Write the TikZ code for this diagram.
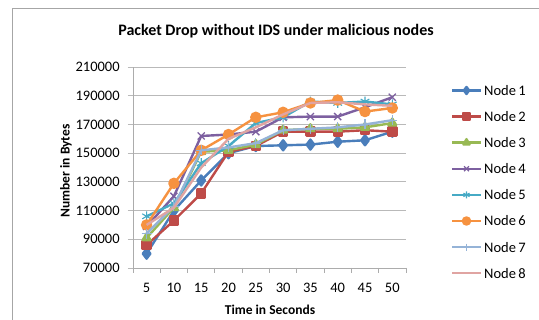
\documentclass[tikz,border=0pt]{standalone}
\usepackage{fontspec}
\setmainfont{Carlito}
\usetikzlibrary{plotmarks}
\definecolor{colA}{HTML}{4A7EBB}
\definecolor{colB}{HTML}{BE4B48}
\definecolor{colC}{HTML}{98B954}
\definecolor{colD}{HTML}{7D60A0}
\definecolor{colE}{HTML}{46AAC5}
\definecolor{colF}{HTML}{F69240}
\definecolor{colG}{HTML}{95B3D7}
\definecolor{colH}{HTML}{E0A4A2}
\begin{document}
\begin{tikzpicture}[x=1pt,y=1pt,line join=round,font=\fontsize{14.5}{16}\selectfont,
	gridline/.style={draw=gray!55,line width=0.8pt},
	axisline/.style={draw=gray!65,line width=0.8pt},
	ser/.style={line width=2.4pt,mark options={solid}},
	s1/.style={ser,colA,mark=diamond*,mark size=5pt},
	s2/.style={ser,colB,mark=square*,mark size=4pt},
	s3/.style={ser,colC,mark=triangle*,mark size=4.5pt},
	s4/.style={ser,colD,mark=x,mark size=5pt,mark options={line width=1.3pt}},
	s5/.style={ser,colE,mark=asterisk,mark size=5pt,mark options={line width=1.1pt}},
	s6/.style={ser,colF,mark=*,mark size=4.5pt},
	s7/.style={ser,colG,mark=+,mark size=5pt,mark options={line width=1.1pt}},
	s8/.style={ser,colH,mark=none}]
		\useasboundingbox (0,0) rectangle (539,320);
		\fill[white] (0,0) rectangle (539,320);
		% chart frame
		\draw[gray!70,line width=0.8pt] (12,0)--(12,312)--(539,312);
		\node[font=\fontsize{16}{18}\selectfont\bfseries] (title) at (276,289) {Packet Drop without IDS under malicious nodes};
		\node[font=\fontsize{13.5}{15}\selectfont\bfseries,rotate=90] (ylab) at (66,149) {Number in Bytes};
		\node[font=\fontsize{13.5}{15}\selectfont\bfseries] (xlab) at (270,10) {Time in Seconds};
		\begin{scope}[x=5.46pt,y=1.435pt,shift={(119.3pt,-48.45pt)}]
			\foreach \v in {70,90,...,210}{
				\draw[gridline] (1.58,\v)--(52.5,\v);
				\node[anchor=east,inner sep=0pt] (ytick\v) at (0.1,\v) {\v000};
			}
			\draw[axisline] (2.5,70)--(2.5,210);
			\draw[axisline] (2.5,70)--(52.5,70);
			\foreach \t in {2.5,7.5,...,52.5}
				\draw[axisline] (\t,70)--(\t,66.5);
			\foreach \t in {5,10,...,50}
				\node (xtick\t) at (\t,56) {\t};
			% data
			\draw[s1] plot coordinates {(5,80) (10,110) (15,131) (20,150) (25,155) (30,155.5) (35,156) (40,158) (45,159) (50,165)};
			\draw[s2] plot coordinates {(5,86) (10,103) (15,122) (20,151) (25,155) (30,165) (35,165) (40,165) (45,166) (50,165)};
			\draw[s3] plot coordinates {(5,91) (10,112) (15,151) (20,152) (25,156) (30,166) (35,167) (40,167) (45,168) (50,171)};
			\draw[s4] plot coordinates {(5,99) (10,120) (15,162) (20,163) (25,165) (30,175) (35,175.5) (40,175.5) (45,182) (50,189)};
			\draw[s5] plot coordinates {(5,106) (10,115) (15,143) (20,155) (25,171) (30,175) (35,186) (40,185) (45,186) (50,184)};
			\draw[s6] plot coordinates {(5,100) (10,129) (15,152) (20,163) (25,175) (30,178.5) (35,185) (40,187) (45,179) (50,181.5)};
			\draw[s7] plot coordinates {(5,94) (10,113) (15,152) (20,154) (25,157) (30,166) (35,167) (40,168) (45,170) (50,173)};
			\draw[s8] plot coordinates {(5,100) (10,112) (15,140) (20,160) (25,168) (30,177) (35,185) (40,185.5) (45,184) (50,183)};
		\end{scope}
		% legend
		\foreach \k in {1,...,8}{
			\pgfmathsetmacro\ly{229.5-26.1*(\k-1)}
			\draw[s\k,mark=none] (452,\ly)--(481,\ly);
			\draw[s\k,mark size=3.5pt] plot coordinates {(466.5,\ly)};
			\node[anchor=west,inner sep=1pt] (leg\k) at (483,\ly) {Node\,\k};
		}
\end{tikzpicture}
\end{document}
